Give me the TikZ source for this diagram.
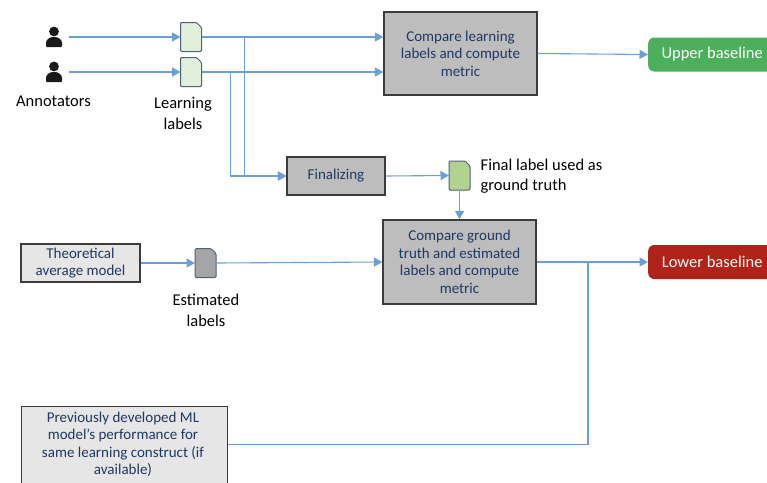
\documentclass[tikz,border=0pt]{standalone}
\usepackage{fontspec}
\setmainfont{Carlito}
\usetikzlibrary{arrows.meta,calc}
\definecolor{linkc}{HTML}{6A9FD8}
\definecolor{navy}{HTML}{1F3864}
\definecolor{boxg}{HTML}{BDBDBD}
\definecolor{lightg}{HTML}{E7E6E6}
\definecolor{edgeg}{HTML}{3C3C3C}
\definecolor{docedge}{HTML}{4F6078}
\definecolor{docl}{HTML}{E2EFDA}
\definecolor{docm}{HTML}{B4D28F}
\definecolor{docd}{HTML}{A5A5A5}
\definecolor{upc}{HTML}{4CAF5B}
\definecolor{loc}{HTML}{B02318}
\tikzset{
  x=1pt,y=-1pt,
  link/.style={draw=linkc,line width=1.1pt},
  arrowlink/.style={link,-{Triangle[length=8.5pt,width=9pt]}},
  procbox/.style={draw=edgeg,line width=1.2pt,fill=boxg,text=navy,align=center,font=\fontsize{15}{17.5}\selectfont,inner sep=0pt},
  srcbox/.style={procbox,fill=lightg},
  docbox/.style={minimum width=21pt,minimum height=29pt,inner sep=0pt,outer sep=0pt},
  docshape/.style={draw=docedge,line width=1pt,rounded corners=1.2pt},
  lbl/.style={text=black,align=center,font=\fontsize{16.5}{20.5}\selectfont,inner sep=0pt},
  result/.style={rounded corners=6pt,text=white,font=\fontsize{16.5}{19}\selectfont,inner sep=0pt,minimum height=34pt,minimum width=128pt},
}
\newcommand{\docdraw}[2]{%
  \draw[docshape,fill=#2] (#1.south west) -- (#1.north west) -- ($(#1.north east)+(-5,0)$) -- ($(#1.north east)+(0,5)$) -- (#1.south east) -- cycle;}
\newcommand{\persondraw}[2]{%
  \fill[black!90] (#1,#2-5.5) circle (4.9pt);
  \fill[black!90,rounded corners=1pt] (#1-8,#2+10) -- (#1-8,#2+7) .. controls (#1-8,#2+2.5) and (#1-4,#2) .. (#1,#2) .. controls (#1+4,#2) and (#1+8,#2+2.5) .. (#1+8,#2+7) -- (#1+8,#2+10) -- cycle;}
\begin{document}
\begin{tikzpicture}
\useasboundingbox (0,0) rectangle (767,482);
\clip (0,0) rectangle (767,482);
\persondraw{54}{37}
\persondraw{54}{72}
\coordinate (p1) at (69,37);
\coordinate (p2) at (69,72);
\node[lbl] (annot) at (53.5,101) {Annotators};
\node[docbox] (d1) at (191,37) {};
\node[docbox] (d2) at (191,72) {};
\docdraw{d1}{docl}
\docdraw{d2}{docl}
\node[lbl] (ll) at (183,113.5) {Learning\\labels};
\node[procbox,minimum width=153pt,minimum height=83pt] (b1) at (460.5,53.5) {Compare learning\\labels and compute\\metric};
\node[procbox,minimum width=98pt,minimum height=38pt] (fin) at (336,176) {Finalizing};
\node[docbox] (d3) at (459.5,175.5) {};
\docdraw{d3}{docm}
\node[lbl,align=left,anchor=west] (fl) at (480.5,176) {Final label used as\\ground truth};
\node[procbox,minimum width=153pt,minimum height=84pt] (b2) at (459.5,262) {Compare ground\\truth and estimated\\labels and compute\\metric};
\node[srcbox,minimum width=119pt,minimum height=38pt] (th) at (80.5,263) {Theoretical\\average model};
\node[docbox] (d4) at (205.5,263) {};
\docdraw{d4}{docd}
\node[lbl] (el) at (206,310.5) {Estimated\\labels};
\node[srcbox,minimum width=206pt,minimum height=90pt,anchor=north west] (pm) at (21,406) {};
\node[text=navy,align=center,font=\fontsize{15}{17.5}\selectfont,inner sep=0pt] (pmt) at (123,444.5) {Previously developed ML\\model’s performance for\\same learning construct (if\\available)};
\node[result,fill=upc,anchor=west] (up) at (648,54.5) {Upper baseline};
\node[result,fill=loc,anchor=west] (lo) at (648,262) {Lower baseline};
\draw[arrowlink] (p1) -- (d1.west);
\draw[arrowlink] (p2) -- (d2.west);
\draw[arrowlink] (d1.east) -- (b1.west |- d1.east);
\draw[arrowlink] (d2.east) -- (b1.west |- d2.east);
\coordinate (j1) at (244.5,37);
\coordinate (j2) at (230.5,72);
\draw[arrowlink] (j1) -- (j1 |- fin.west) -- (fin.west);
\draw[arrowlink] (j2) -- (j2 |- fin.west) -- (fin.west);
\draw[arrowlink] (fin.east) -- (d3.west);
\draw[arrowlink] (d3.south) -- (d3.south |- b2.north);
\draw[arrowlink] (th.east) -- (d4.west);
\draw[arrowlink] (d4.east) -- (b2.west);
\draw[arrowlink] (b1.east) -- (up.west);
\draw[arrowlink] (b2.east) -- (lo.west);
\coordinate (j3) at (588,262);
\draw[link] (pm.east |- pmt) -- (j3 |- pmt) -- (j3);
\end{tikzpicture}
\end{document}
